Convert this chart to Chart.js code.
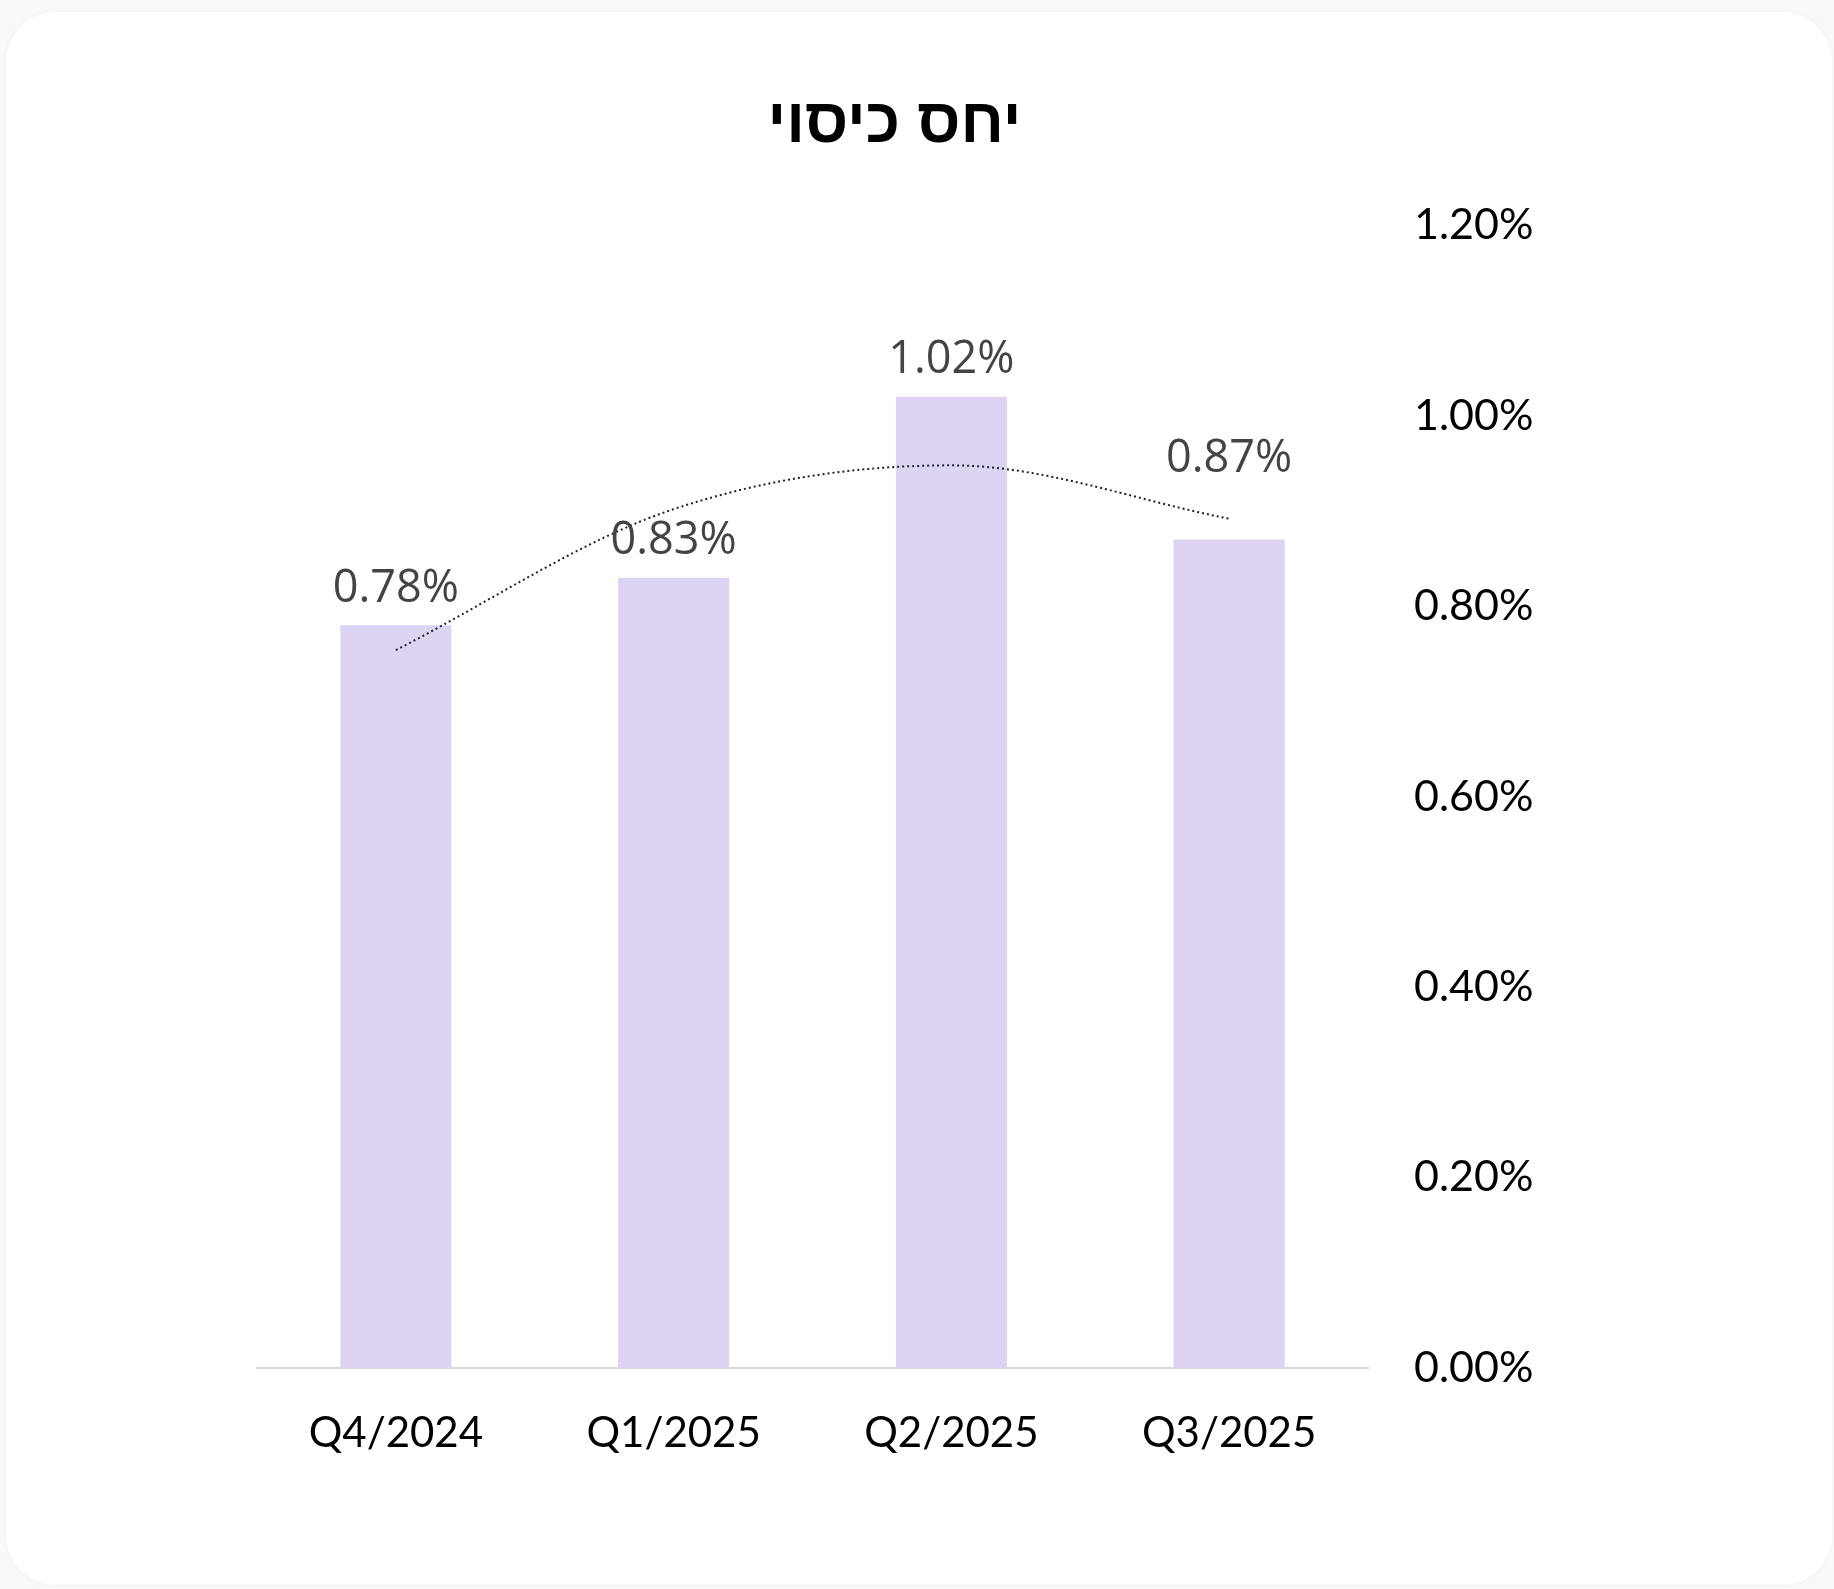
<!DOCTYPE html>
<html>
<head>
<meta charset="utf-8">
<script src="https://cdn.jsdelivr.net/npm/chart.js@4.4.1/dist/chart.umd.min.js"></script>
<style>
  html, body { margin: 0; padding: 0; background: #f9f9fb; }
  #wrap { position: relative; width: 1834px; height: 1589px; overflow: hidden; background: #f9f9fb; }
  #card { position: absolute; left: 6px; top: 12px; width: 1826px; height: 1573px; background: #ffffff; border-radius: 50px; box-shadow: 0 0 5px rgba(0,0,0,0.04); }
  canvas { position: absolute; left: 0; top: 0; }
</style>
</head>
<body>
<div id="wrap">
  <div id="card"></div>
  <canvas id="c" width="1834" height="1589"></canvas>
</div>
<script>
const categories = ['Q4/2024', 'Q1/2025', 'Q2/2025', 'Q3/2025'];
const coverageRatio = [0.78, 0.83, 1.02, 0.87];
const trendValues = [0.754, 0.902, 0.948, 0.892];
const yTickValues = [0, 0.2, 0.4, 0.6, 0.8, 1.0, 1.2];
const chartTitle = 'יחס כיסוי';

const dataLabelPlugin = {
  id: 'dataLabels',
  afterDatasetsDraw(chart, args, opts) {
    const meta = chart.getDatasetMeta(1);
    const ctx = chart.ctx;
    const extra = opts.extraLift || [];
    ctx.save();
    ctx.font = '45px "Open Sans"';
    ctx.fillStyle = '#444444';
    ctx.textAlign = 'center';
    ctx.textBaseline = 'bottom';
    meta.data.forEach((bar, i) => {
      ctx.fillText(coverageRatio[i].toFixed(2) + '%', bar.x, bar.y - 14 - (extra[i] || 0));
    });
    ctx.restore();
  }
};

new Chart(document.getElementById('c'), {
  type: 'bar',
  data: {
    labels: categories,
    datasets: [
      {
        type: 'line',
        label: 'trend',
        data: trendValues,
        borderColor: '#222222',
        borderWidth: 2,
        borderDash: [2, 3],
        pointRadius: 0,
        cubicInterpolationMode: 'monotone',
        fill: false,
        order: 0
      },
      {
        type: 'bar',
        label: 'coverage',
        data: coverageRatio,
        backgroundColor: '#ddd4f4',
        categoryPercentage: 1.0,
        barPercentage: 0.40,
        order: 1
      }
    ]
  },
  options: {
    responsive: false,
    animation: false,
    layout: { padding: { left: 257, right: 302, top: 0, bottom: 91 } },
    plugins: {
      legend: { display: false },
      tooltip: { enabled: false },
      dataLabels: { extraLift: [0, 0, 0, 44] },
      title: {
        display: true,
        text: chartTitle,
        font: { family: '"Liberation Sans", Arial, sans-serif', size: 62, weight: 'bold' },
        color: '#000000',
        padding: { top: 88, bottom: 63 }
      }
    },
    scales: {
      x: {
        grid: { display: false, drawTicks: false },
        border: { display: true, color: '#d9d9d9', width: 2 },
        ticks: {
          color: '#000000',
          font: { family: 'Lato', size: 42 },
          padding: 40
        },
        afterFit(scale) { scale.height = 130; }
      },
      y: {
        position: 'right',
        min: 0,
        max: 1.2,
        afterBuildTicks(scale) { scale.ticks = yTickValues.map(v => ({ value: v })); },
        grid: { display: false, drawTicks: false },
        border: { display: false },
        ticks: {
          color: '#000000',
          font: { family: 'Lato', size: 43 },
          padding: 46,
          callback: v => Number(v).toFixed(2) + '%'
        },
        afterFit(scale) { scale.width = 164; }
      }
    }
  },
  plugins: [dataLabelPlugin]
});
</script>
</body>
</html>
